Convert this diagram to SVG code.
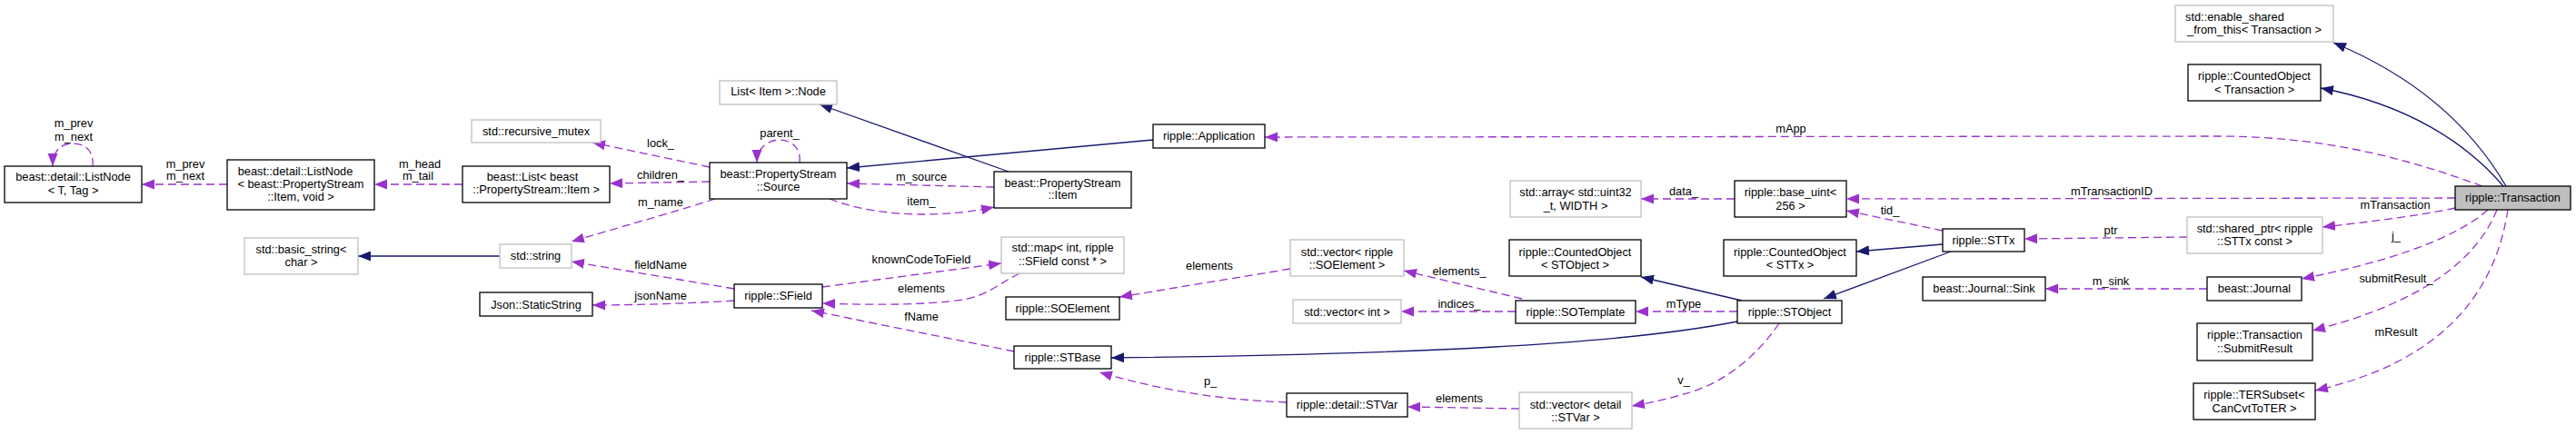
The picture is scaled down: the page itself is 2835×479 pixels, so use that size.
<svg xmlns="http://www.w3.org/2000/svg" width="2835" height="479" viewBox="0 0 2835 479">
<style>
text{font-family:"Liberation Sans",Arial,sans-serif;font-size:12.8px;fill:#000;text-anchor:middle}
rect{stroke-width:1.3}
.b{fill:#fff;stroke:#000}
.g{fill:#fff;stroke:#bfbfbf}
.t{fill:#bfbfbf;stroke:#000}
.e path{fill:none;stroke-width:1.3}
.d{stroke:#9a32cd;stroke-dasharray:9,5;marker-end:url(#ap)}
.i{stroke:#191970;marker-end:url(#an)}
</style>
<defs>
<marker id="ap" markerWidth="15" markerHeight="12" refX="14" refY="5.5" orient="auto" markerUnits="userSpaceOnUse"><path d="M0,0 L14,5.5 L0,11 z" fill="#9a32cd"/></marker>
<marker id="an" markerWidth="15" markerHeight="12" refX="14" refY="5.5" orient="auto" markerUnits="userSpaceOnUse"><path d="M0,0 L14,5.5 L0,11 z" fill="#191970"/></marker>
</defs>
<rect width="2835" height="479" fill="#fff"/>
<g id="edges" class="e">
<path class="d" d="M102,183 C104,165 92,158 80,158 C68,158 58,165 58,183"/>
<path class="d" d="M250,203 L156,203"/>
<path class="d" d="M509,203 L412,203"/>
<path class="i" d="M550,282 L394,282"/>
<path class="d" d="M781,184 L652,157"/>
<path class="d" d="M781,200 L671,202"/>
<path class="d" d="M787,219 C760,228 700,245 629,266"/>
<path class="d" d="M880,179 C882,162 870,154 858,154 C846,154 833,162 833,179"/>
<path class="i" d="M1269,154 L932,185"/>
<path class="i" d="M1110,189 L902,115"/>
<path class="d" d="M1094,206 L932,202"/>
<path class="d" d="M913,219 C940,230 980,236 1014,236 C1050,236 1075,232 1094,228"/>
<path class="d" d="M808,318 L629,288"/>
<path class="d" d="M808,331 C760,334 700,336 652,336"/>
<path class="d" d="M905,316 L1102,290"/>
<path class="d" d="M1122,301 C1100,312 1085,326 1060,330 C1020,336 960,336 905,334"/>
<path class="d" d="M1116,387 L893,342"/>
<path class="d" d="M1420,296 L1232,327"/>
<path class="i" d="M1912,354 C1780,380 1550,390 1223,394"/>
<path class="d" d="M1416,443 C1340,440 1280,430 1210,410"/>
<path class="d" d="M1675,329 L1545,298"/>
<path class="d" d="M1668,343 L1542,343"/>
<path class="d" d="M1912,343 L1800,343"/>
<path class="i" d="M1917,331 L1806,305"/>
<path class="d" d="M1672,450 L1549,448"/>
<path class="d" d="M1958,356 C1935,390 1900,420 1860,432 C1840,438 1820,443 1796,447"/>
<path class="d" d="M1909,219 L1806,219"/>
<path class="d" d="M2138,254 L2032,232"/>
<path class="i" d="M2138,269 L2043,277"/>
<path class="i" d="M2147,277 L2007,329"/>
<path class="d" d="M2407,261 L2228,263"/>
<path class="d" d="M2429,318 L2251,318"/>
<path class="i" d="M2758,205 C2720,140 2660,85 2568,47"/>
<path class="i" d="M2755,205 C2715,158 2650,115 2554,97"/>
<path class="d" d="M2732,205 C2650,175 2560,150 2440,150 L1392,151"/>
<path class="d" d="M2702,218 L2032,219"/>
<path class="d" d="M2702,229 C2670,236 2620,243 2556,250"/>
<path class="d" d="M2738,231 C2700,265 2620,290 2533,307"/>
<path class="d" d="M2748,231 C2720,300 2640,340 2545,364"/>
<path class="d" d="M2760,231 C2745,330 2680,400 2548,430"/>
<text x="81" y="140">m_prev</text>
<text x="81" y="155">m_next</text>
<text x="204" y="185">m_prev</text>
<text x="204" y="198">m_next</text>
<text x="462" y="185">m_head</text>
<text x="460" y="198">m_tail</text>
<text x="727" y="162">lock_</text>
<text x="727" y="197">children_</text>
<text x="727" y="227">m_name</text>
<text x="858" y="151">parent_</text>
<text x="1014" y="199">m_source</text>
<text x="1014" y="226">item_</text>
<text x="727" y="296">fieldName</text>
<text x="727" y="330">jsonName</text>
<text x="1014" y="290">knownCodeToField</text>
<text x="1014" y="322">elements</text>
<text x="1014" y="353">fName</text>
<text x="1331" y="297">elements</text>
<text x="1332" y="424">p_</text>
<text x="1606" y="303">elements_</text>
<text x="1606" y="339">indices_</text>
<text x="1853" y="339">mType</text>
<text x="1606" y="443">elements</text>
<text x="1853" y="423">v_</text>
<text x="1853" y="215">data_</text>
<text x="2080" y="236">tid_</text>
<text x="2323" y="258">ptr</text>
<text x="2323" y="314">m_sink</text>
<text x="1971" y="146">mApp</text>
<text x="2324" y="215">mTransactionID</text>
<text x="2636" y="230">mTransaction</text>
<text x="2637" y="264">j_</text>
<text x="2637" y="311">submitResult_</text>
<text x="2637" y="370">mResult</text>
</g>
<g id="listnode_tt"><rect class="b" x="5" y="183" width="151" height="40"/><text x="80.5" y="198.5">beast::detail::ListNode</text><text x="80.5" y="214">&lt; T, Tag &gt;</text></g>
<g id="listnode_item"><rect class="b" x="250" y="176" width="162" height="55"/><text x="325" y="192.5">beast::detail::ListNode</text><text x="331" y="206.5">&lt; beast::PropertyStream</text><text x="331" y="221">::Item, void &gt;</text></g>
<g id="beast_list"><rect class="b" x="509" y="183" width="162" height="40"/><text x="586" y="198.5">beast::List&lt; beast</text><text x="590" y="213">::PropertyStream::Item &gt;</text></g>
<g id="basic_string"><rect class="g" x="269" y="262" width="125" height="40"/><text x="331.5" y="278.5">std::basic_string&lt;</text><text x="331.5" y="293">char &gt;</text></g>
<g id="recursive_mutex"><rect class="g" x="519" y="132" width="142" height="25"/><text x="590" y="148.5">std::recursive_mutex</text></g>
<g id="std_string"><rect class="g" x="550" y="269" width="79" height="26"/><text x="589.5" y="286">std::string</text></g>
<g id="json_static"><rect class="b" x="528" y="322" width="124" height="26"/><text x="590" y="339.5">Json::StaticString</text></g>
<g id="list_item_node"><rect class="g" x="792" y="89" width="129" height="26"/><text x="856.5" y="105">List&lt; Item &gt;::Node</text></g>
<g id="source"><rect class="b" x="781" y="179" width="151" height="40"/><text x="856.5" y="195.5">beast::PropertyStream</text><text x="856.5" y="209.5">::Source</text></g>
<g id="sfield"><rect class="b" x="808" y="313" width="97" height="26"/><text x="856.5" y="330">ripple::SField</text></g>
<g id="application"><rect class="b" x="1269" y="137" width="123" height="26"/><text x="1330.5" y="154">ripple::Application</text></g>
<g id="ps_item"><rect class="b" x="1094" y="189" width="151" height="40"/><text x="1169.5" y="205.5">beast::PropertyStream</text><text x="1169.5" y="218.5">::Item</text></g>
<g id="std_map"><rect class="g" x="1102" y="261" width="135" height="40"/><text x="1169.5" y="276.5">std::map&lt; int, ripple</text><text x="1169.5" y="291.5">::SField const * &gt;</text></g>
<g id="soelement"><rect class="b" x="1107" y="327" width="125" height="25"/><text x="1169.5" y="343.5">ripple::SOElement</text></g>
<g id="stbase"><rect class="b" x="1116" y="381" width="107" height="25"/><text x="1169.5" y="397.5">ripple::STBase</text></g>
<g id="std_array"><rect class="g" x="1662" y="199" width="144" height="40"/><text x="1734" y="215.5">std::array&lt; std::uint32</text><text x="1734" y="230.5">_t, WIDTH &gt;</text></g>
<g id="vec_soelement"><rect class="g" x="1420" y="264" width="125" height="40"/><text x="1482.5" y="281.5">std::vector&lt; ripple</text><text x="1482.5" y="295.5">::SOElement &gt;</text></g>
<g id="vec_int"><rect class="g" x="1423" y="330" width="119" height="26"/><text x="1482.5" y="347.5">std::vector&lt; int &gt;</text></g>
<g id="stvar"><rect class="b" x="1416" y="433" width="133" height="26"/><text x="1482.5" y="450">ripple::detail::STVar</text></g>
<g id="counted_stobject"><rect class="b" x="1661" y="264" width="145" height="40"/><text x="1733.5" y="281.5">ripple::CountedObject</text><text x="1733.5" y="295.5">&lt; STObject &gt;</text></g>
<g id="sotemplate"><rect class="b" x="1668" y="331" width="132" height="25"/><text x="1734" y="347.5">ripple::SOTemplate</text></g>
<g id="vec_stvar"><rect class="g" x="1672" y="432" width="124" height="40"/><text x="1734" y="449.5">std::vector&lt; detail</text><text x="1734" y="463.5">::STVar &gt;</text></g>
<g id="base_uint"><rect class="b" x="1909" y="199" width="123" height="40"/><text x="1970.5" y="215.5">ripple::base_uint&lt;</text><text x="1970.5" y="230.5">256 &gt;</text></g>
<g id="counted_sttx"><rect class="b" x="1897" y="264" width="146" height="40"/><text x="1970" y="281.5">ripple::CountedObject</text><text x="1970" y="295.5">&lt; STTx &gt;</text></g>
<g id="stobject"><rect class="b" x="1912" y="331" width="115" height="25"/><text x="1969.5" y="347.5">ripple::STObject</text></g>
<g id="sttx"><rect class="b" x="2138" y="252" width="90" height="25"/><text x="2183" y="268.5">ripple::STTx</text></g>
<g id="journal_sink"><rect class="b" x="2116" y="305" width="135" height="26"/><text x="2183.5" y="321.5">beast::Journal::Sink</text></g>
<g id="enable_shared"><rect class="g" x="2394" y="6" width="174" height="40"/><text x="2405" y="22.5" style="text-anchor:start">std::enable_shared</text><text x="2481" y="36.5">_from_this&lt; Transaction &gt;</text></g>
<g id="counted_tx"><rect class="b" x="2408" y="71" width="146" height="40"/><text x="2481" y="87.5">ripple::CountedObject</text><text x="2481" y="102.5">&lt; Transaction &gt;</text></g>
<g id="shared_ptr"><rect class="g" x="2407" y="239" width="149" height="40"/><text x="2481.5" y="255.5">std::shared_ptr&lt; ripple</text><text x="2481.5" y="269.5">::STTx const &gt;</text></g>
<g id="journal"><rect class="b" x="2429" y="305" width="104" height="26"/><text x="2481" y="321.5">beast::Journal</text></g>
<g id="submit_result"><rect class="b" x="2418" y="356" width="127" height="41"/><text x="2481.5" y="372.5">ripple::Transaction</text><text x="2481.5" y="387.5">::SubmitResult</text></g>
<g id="tersubset"><rect class="b" x="2414" y="422" width="134" height="40"/><text x="2481" y="438.5">ripple::TERSubset&lt;</text><text x="2481" y="453.5">CanCvtToTER &gt;</text></g>
<g id="transaction"><rect class="t" x="2702" y="205" width="127" height="26"/><text x="2765.5" y="221.5">ripple::Transaction</text></g>
</svg>
